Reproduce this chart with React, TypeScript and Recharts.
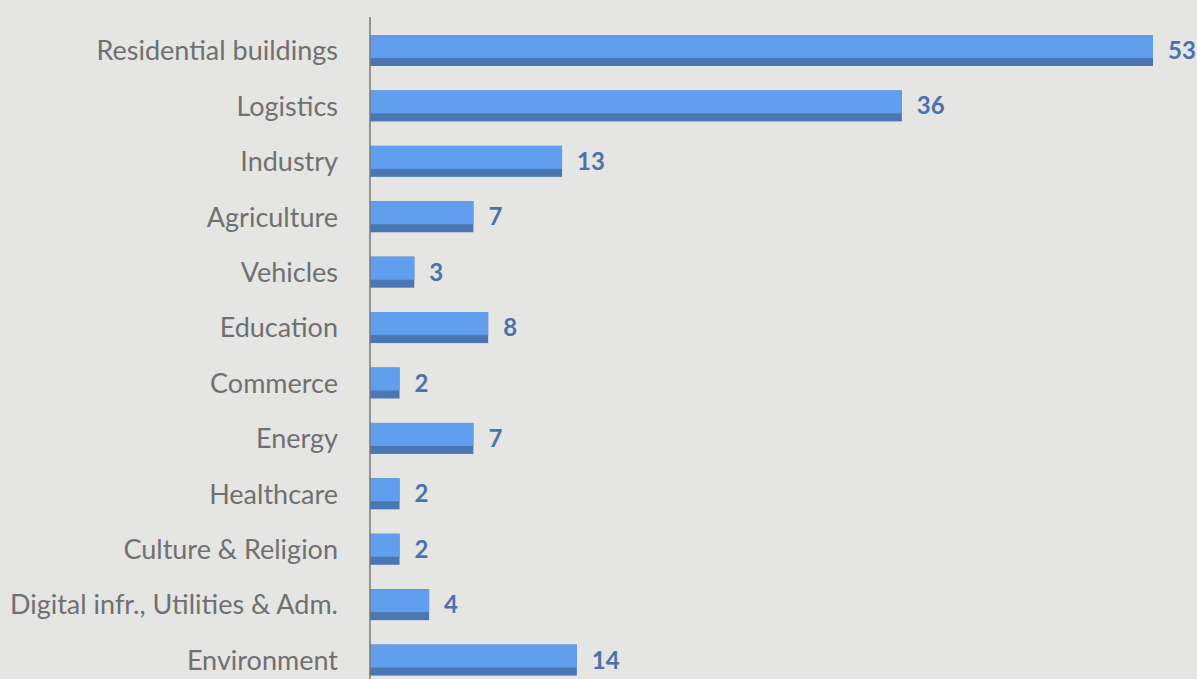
import React from 'react';
import { BarChart, Bar, XAxis, YAxis, LabelList } from 'recharts';

const categories = [
  'Residential buildings', 'Logistics', 'Industry', 'Agriculture', 'Vehicles', 'Education',
  'Commerce', 'Energy', 'Healthcare', 'Culture & Religion', 'Digital infr., Utilities & Adm.', 'Environment',
];
const counts = [53, 36, 13, 7, 3, 8, 2, 7, 2, 2, 4, 14];

const data = categories.map((name, i) => ({ name, value: counts[i] }));

// bar with a darker strip along the bottom
const ShadedBar = (props: any) => {
  const { x, y, width, height } = props;
  if (!width || width <= 0) return null;
  const top = Math.round(height * 0.74);
  return (
    <g>
      <rect x={x} y={y} width={width} height={height} fill="#4a77b2" />
      <rect x={x} y={y} width={width} height={top} fill="#619eed" />
    </g>
  );
};

export default function App() {
  return (
    <div style={{ position: 'absolute', left: 0, top: 0, width: 1197, height: 679, background: '#e5e5e4', overflow: 'hidden' }}>
      <BarChart
        width={1197}
        height={700}
        data={data}
        layout="vertical"
        margin={{ top: 17, right: 44, bottom: 12, left: 0 }}
        barSize={31}
      >
        <XAxis type="number" domain={[0, 53]} hide />
        <YAxis
          type="category"
          dataKey="name"
          width={370}
          padding={{ top: 6, bottom: 0 }}
          tickLine={false}
          axisLine={{ stroke: '#777777', strokeWidth: 1.5 }}
          tickMargin={26}
          tick={{ fontSize: 27, fill: '#707070', fontFamily: 'Lato' }}
          interval={0}
        />
        <Bar dataKey="value" shape={<ShadedBar />} isAnimationActive={false}>
          <LabelList
            dataKey="value"
            position="right"
            offset={15}
            style={{ fontSize: 24, fontWeight: 700, fill: '#4a72b0', fontFamily: 'Lato' }}
          />
        </Bar>
      </BarChart>
    </div>
  );
}
